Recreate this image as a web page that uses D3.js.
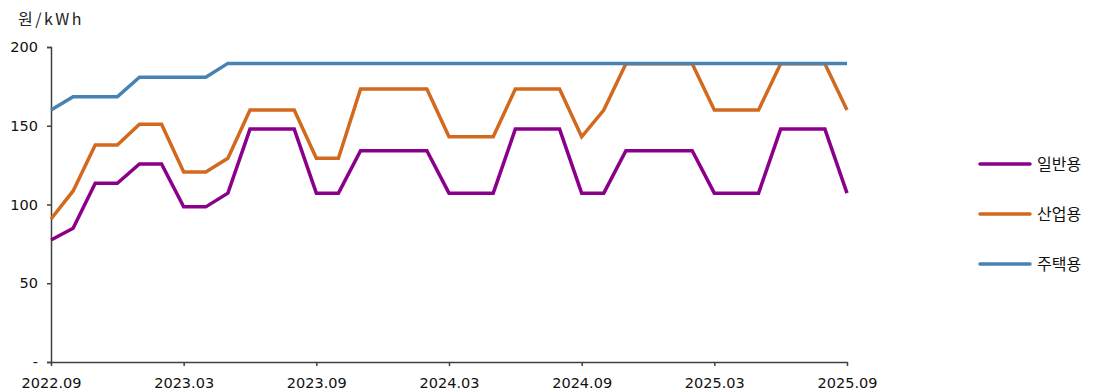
<!DOCTYPE html>
<html><head><meta charset="utf-8">
<script src="https://cdn.jsdelivr.net/npm/d3@7"></script>
<style>body{margin:0;background:#fff}svg{display:block}</style>
</head><body>
<svg id="chart" width="1095" height="392"></svg>
<script>
const months = ["2022.09","2022.10","2022.11","2022.12","2023.01","2023.02","2023.03","2023.04","2023.05","2023.06","2023.07","2023.08","2023.09","2023.10","2023.11","2023.12","2024.01","2024.02","2024.03","2024.04","2024.05","2024.06","2024.07","2024.08","2024.09","2024.10","2024.11","2024.12","2025.01","2025.02","2025.03","2025.04","2025.05","2025.06","2025.07","2025.08","2025.09"];
const general = [77.5,84.9,113.5,113.5,125.7,125.7,98.5,98.5,107.2,147.9,147.9,147.9,107.2,107.2,134.2,134.2,134.2,134.2,107.2,107.2,107.2,147.9,147.9,147.9,107.2,107.2,134.2,134.2,134.2,134.2,107.2,107.2,107.2,147.9,147.9,147.9,107.2];
const industrial = [90.8,108.6,137.8,137.8,151,151,120.6,120.6,129.4,160,160,160,129.4,129.4,173.3,173.3,173.3,173.3,143,143,143,173.3,173.3,173.3,143,160,189.3,189.3,189.3,189.3,160,160,160,189.3,189.3,189.3,160];
const residential = [160,168.4,168.4,168.4,180.8,180.8,180.8,180.8,189.6,189.6,189.6,189.6,189.6,189.6,189.6,189.6,189.6,189.6,189.6,189.6,189.6,189.6,189.6,189.6,189.6,189.6,189.6,189.6,189.6,189.6,189.6,189.6,189.6,189.6,189.6,189.6,189.6];
const seriesNames = ["일반용","산업용","주택용"];
const seriesColors = ["#8B008B","#D2691E","#4682B4"];
const yTicks = [0,50,100,150,200];
const xTickLabels = ["2022.09","2023.03","2023.09","2024.03","2024.09","2025.03","2025.09"];
const unitLabel = "원/kWh";

const svg = d3.select("#chart");
const x = d3.scalePoint().domain(months).range([51, 847]);
const y = d3.scaleLinear().domain([0, 200]).range([362, 47]);
const numFont = "'DejaVu Sans', sans-serif";
const krFont = "'Noto Sans CJK KR', sans-serif";

// Y axis
const yAxis = svg.append("g").attr("transform", "translate(51,0)")
  .call(d3.axisLeft(y).tickValues(yTicks).tickSize(4).tickPadding(9)
    .tickFormat(d => d === 0 ? "-" : d));
yAxis.select(".domain").attr("stroke", "#404040").attr("stroke-width", 1.5);
yAxis.selectAll(".tick line").attr("stroke", "#404040").attr("stroke-width", 1.5);
yAxis.selectAll(".tick text").attr("font-family", numFont).attr("font-size", 14.5).attr("fill", "#111");

// X axis
const xAxis = svg.append("g").attr("transform", "translate(0,362)")
  .call(d3.axisBottom(x).tickValues(xTickLabels).tickSize(4).tickPadding(9).tickSizeOuter(0));
xAxis.select(".domain").attr("stroke", "#404040").attr("stroke-width", 1.5);
xAxis.selectAll(".tick line").attr("stroke", "#404040").attr("stroke-width", 1.5);
xAxis.selectAll(".tick text").attr("font-family", numFont).attr("font-size", 14.5).attr("fill", "#111").attr("dy", "0.9em");

// Unit label
svg.append("text").attr("x", 18).attr("y", 25).text(unitLabel)
  .attr("font-family", krFont).attr("font-size", 16).attr("letter-spacing", 2.5).attr("fill", "#222");

// Lines
const data = [general, industrial, residential];
const line = d3.line().x((d, i) => x(months[i])).y(d => y(d));
[1, 0, 2].forEach(k => {
  svg.append("path").datum(data[k]).attr("d", line)
    .attr("fill", "none").attr("stroke", seriesColors[k]).attr("stroke-width", 3.5)
    .attr("stroke-linejoin", "miter");
});

// Legend
const legY = [164, 214, 264];
seriesNames.forEach((n, k) => {
  const g = svg.append("g");
  g.append("line").attr("x1", 980).attr("x2", 1030).attr("y1", legY[k]).attr("y2", legY[k])
    .attr("stroke", seriesColors[k]).attr("stroke-width", 3.5).attr("stroke-linecap", "round");
  g.append("text").attr("x", 1037).attr("y", legY[k]).attr("dy", "0.35em").text(n)
    .attr("font-family", krFont).attr("font-size", 16).attr("fill", "#111");
});
</script>
</body></html>
